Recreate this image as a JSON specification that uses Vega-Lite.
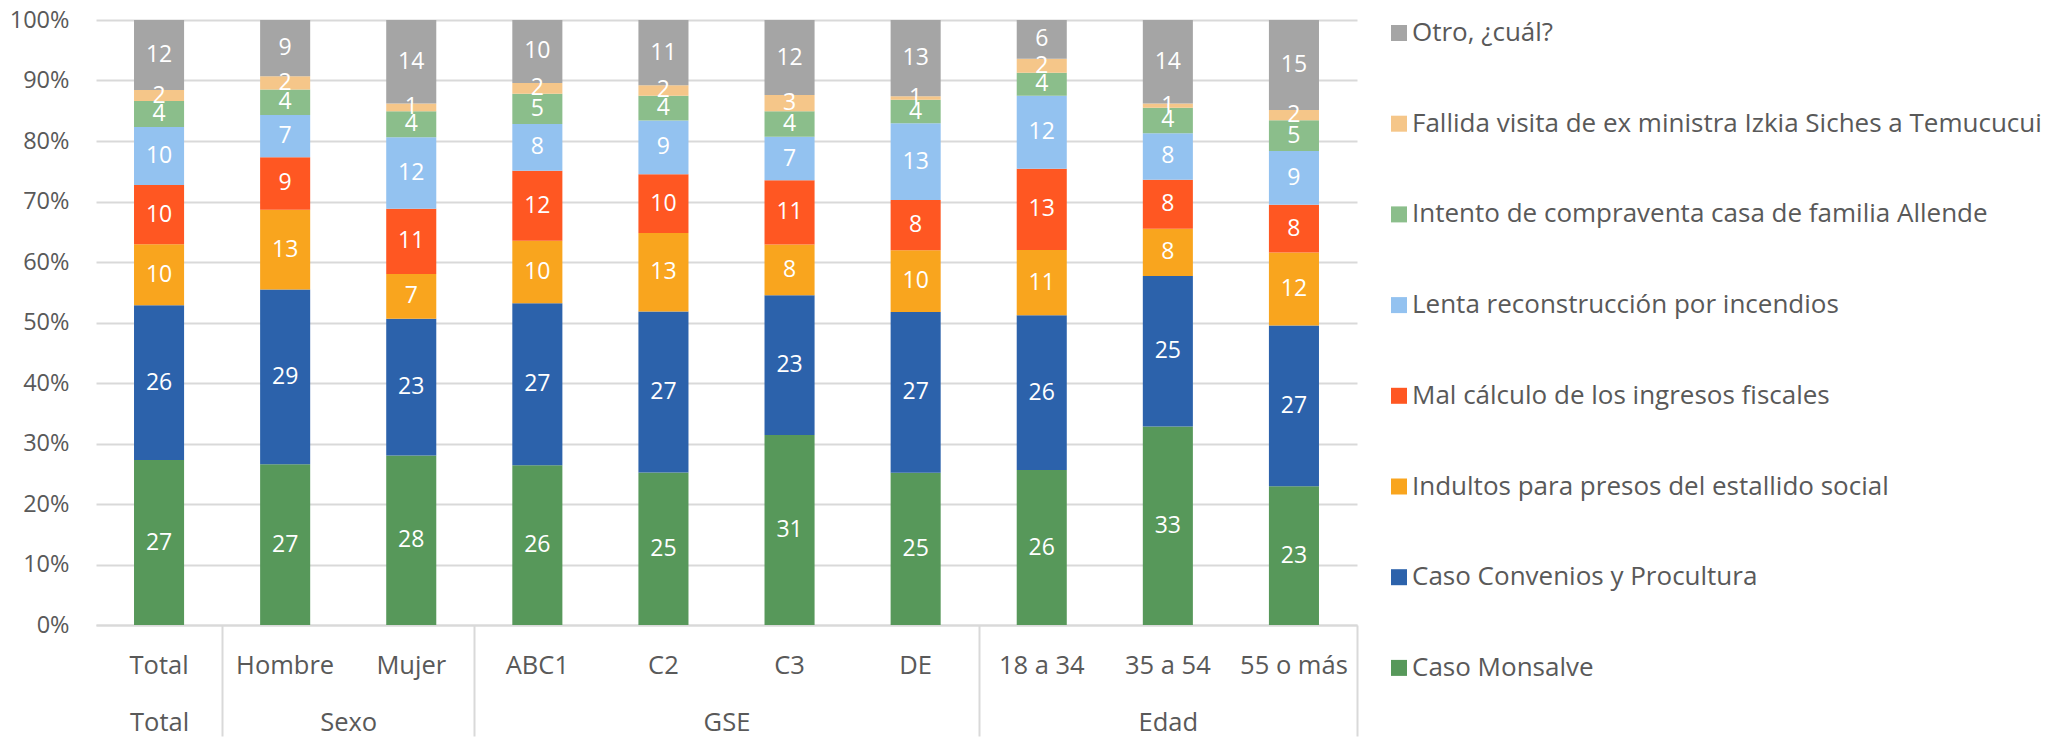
{
  "$schema": "https://vega.github.io/schema/vega-lite/v6.json",
  "width": 1261,
  "height": 605,
  "autosize": {"type": "none"},
  "padding": {"left": 96, "top": 20, "right": 696, "bottom": 112},
  "background": "white",
  "config": {"font": "Open Sans", "view": {"stroke": null}},
  "datasets": {
    "d": [
      {"grupo": "Total", "categoria": "Total", "tema": "Caso Monsalve", "orden": 1, "valor": 27.3},
      {"grupo": "Total", "categoria": "Total", "tema": "Caso Convenios y Procultura", "orden": 2, "valor": 25.6},
      {"grupo": "Total", "categoria": "Total", "tema": "Indultos para presos del estallido social", "orden": 3, "valor": 10.1},
      {"grupo": "Total", "categoria": "Total", "tema": "Mal cálculo de los ingresos fiscales", "orden": 4, "valor": 9.8},
      {"grupo": "Total", "categoria": "Total", "tema": "Lenta reconstrucción por incendios", "orden": 5, "valor": 9.6},
      {"grupo": "Total", "categoria": "Total", "tema": "Intento de compraventa casa de familia Allende", "orden": 6, "valor": 4.3},
      {"grupo": "Total", "categoria": "Total", "tema": "Fallida visita de ex ministra Izkia Siches a Temucucui", "orden": 7, "valor": 1.8},
      {"grupo": "Total", "categoria": "Total", "tema": "Otro, ¿cuál?", "orden": 8, "valor": 11.6},

      {"grupo": "Sexo", "categoria": "Hombre", "tema": "Caso Monsalve", "orden": 1, "valor": 26.6},
      {"grupo": "Sexo", "categoria": "Hombre", "tema": "Caso Convenios y Procultura", "orden": 2, "valor": 28.9},
      {"grupo": "Sexo", "categoria": "Hombre", "tema": "Indultos para presos del estallido social", "orden": 3, "valor": 13.2},
      {"grupo": "Sexo", "categoria": "Hombre", "tema": "Mal cálculo de los ingresos fiscales", "orden": 4, "valor": 8.7},
      {"grupo": "Sexo", "categoria": "Hombre", "tema": "Lenta reconstrucción por incendios", "orden": 5, "valor": 7.0},
      {"grupo": "Sexo", "categoria": "Hombre", "tema": "Intento de compraventa casa de familia Allende", "orden": 6, "valor": 4.2},
      {"grupo": "Sexo", "categoria": "Hombre", "tema": "Fallida visita de ex ministra Izkia Siches a Temucucui", "orden": 7, "valor": 2.2},
      {"grupo": "Sexo", "categoria": "Hombre", "tema": "Otro, ¿cuál?", "orden": 8, "valor": 9.3},

      {"grupo": "Sexo", "categoria": "Mujer", "tema": "Caso Monsalve", "orden": 1, "valor": 28.0},
      {"grupo": "Sexo", "categoria": "Mujer", "tema": "Caso Convenios y Procultura", "orden": 2, "valor": 22.6},
      {"grupo": "Sexo", "categoria": "Mujer", "tema": "Indultos para presos del estallido social", "orden": 3, "valor": 7.4},
      {"grupo": "Sexo", "categoria": "Mujer", "tema": "Mal cálculo de los ingresos fiscales", "orden": 4, "valor": 10.8},
      {"grupo": "Sexo", "categoria": "Mujer", "tema": "Lenta reconstrucción por incendios", "orden": 5, "valor": 11.8},
      {"grupo": "Sexo", "categoria": "Mujer", "tema": "Intento de compraventa casa de familia Allende", "orden": 6, "valor": 4.3},
      {"grupo": "Sexo", "categoria": "Mujer", "tema": "Fallida visita de ex ministra Izkia Siches a Temucucui", "orden": 7, "valor": 1.3},
      {"grupo": "Sexo", "categoria": "Mujer", "tema": "Otro, ¿cuál?", "orden": 8, "valor": 13.8},

      {"grupo": "GSE", "categoria": "ABC1", "tema": "Caso Monsalve", "orden": 1, "valor": 26.4},
      {"grupo": "GSE", "categoria": "ABC1", "tema": "Caso Convenios y Procultura", "orden": 2, "valor": 26.8},
      {"grupo": "GSE", "categoria": "ABC1", "tema": "Indultos para presos del estallido social", "orden": 3, "valor": 10.3},
      {"grupo": "GSE", "categoria": "ABC1", "tema": "Mal cálculo de los ingresos fiscales", "orden": 4, "valor": 11.6},
      {"grupo": "GSE", "categoria": "ABC1", "tema": "Lenta reconstrucción por incendios", "orden": 5, "valor": 7.7},
      {"grupo": "GSE", "categoria": "ABC1", "tema": "Intento de compraventa casa de familia Allende", "orden": 6, "valor": 5.0},
      {"grupo": "GSE", "categoria": "ABC1", "tema": "Fallida visita de ex ministra Izkia Siches a Temucucui", "orden": 7, "valor": 1.8},
      {"grupo": "GSE", "categoria": "ABC1", "tema": "Otro, ¿cuál?", "orden": 8, "valor": 10.4},

      {"grupo": "GSE", "categoria": "C2", "tema": "Caso Monsalve", "orden": 1, "valor": 25.2},
      {"grupo": "GSE", "categoria": "C2", "tema": "Caso Convenios y Procultura", "orden": 2, "valor": 26.6},
      {"grupo": "GSE", "categoria": "C2", "tema": "Indultos para presos del estallido social", "orden": 3, "valor": 13.0},
      {"grupo": "GSE", "categoria": "C2", "tema": "Mal cálculo de los ingresos fiscales", "orden": 4, "valor": 9.7},
      {"grupo": "GSE", "categoria": "C2", "tema": "Lenta reconstrucción por incendios", "orden": 5, "valor": 8.9},
      {"grupo": "GSE", "categoria": "C2", "tema": "Intento de compraventa casa de familia Allende", "orden": 6, "valor": 4.1},
      {"grupo": "GSE", "categoria": "C2", "tema": "Fallida visita de ex ministra Izkia Siches a Temucucui", "orden": 7, "valor": 1.7},
      {"grupo": "GSE", "categoria": "C2", "tema": "Otro, ¿cuál?", "orden": 8, "valor": 10.8},

      {"grupo": "GSE", "categoria": "C3", "tema": "Caso Monsalve", "orden": 1, "valor": 31.4},
      {"grupo": "GSE", "categoria": "C3", "tema": "Caso Convenios y Procultura", "orden": 2, "valor": 23.1},
      {"grupo": "GSE", "categoria": "C3", "tema": "Indultos para presos del estallido social", "orden": 3, "valor": 8.4},
      {"grupo": "GSE", "categoria": "C3", "tema": "Mal cálculo de los ingresos fiscales", "orden": 4, "valor": 10.6},
      {"grupo": "GSE", "categoria": "C3", "tema": "Lenta reconstrucción por incendios", "orden": 5, "valor": 7.2},
      {"grupo": "GSE", "categoria": "C3", "tema": "Intento de compraventa casa de familia Allende", "orden": 6, "valor": 4.2},
      {"grupo": "GSE", "categoria": "C3", "tema": "Fallida visita de ex ministra Izkia Siches a Temucucui", "orden": 7, "valor": 2.7},
      {"grupo": "GSE", "categoria": "C3", "tema": "Otro, ¿cuál?", "orden": 8, "valor": 12.4},

      {"grupo": "GSE", "categoria": "DE", "tema": "Caso Monsalve", "orden": 1, "valor": 25.2},
      {"grupo": "GSE", "categoria": "DE", "tema": "Caso Convenios y Procultura", "orden": 2, "valor": 26.6},
      {"grupo": "GSE", "categoria": "DE", "tema": "Indultos para presos del estallido social", "orden": 3, "valor": 10.2},
      {"grupo": "GSE", "categoria": "DE", "tema": "Mal cálculo de los ingresos fiscales", "orden": 4, "valor": 8.3},
      {"grupo": "GSE", "categoria": "DE", "tema": "Lenta reconstrucción por incendios", "orden": 5, "valor": 12.7},
      {"grupo": "GSE", "categoria": "DE", "tema": "Intento de compraventa casa de familia Allende", "orden": 6, "valor": 3.9},
      {"grupo": "GSE", "categoria": "DE", "tema": "Fallida visita de ex ministra Izkia Siches a Temucucui", "orden": 7, "valor": 0.6},
      {"grupo": "GSE", "categoria": "DE", "tema": "Otro, ¿cuál?", "orden": 8, "valor": 12.6},

      {"grupo": "Edad", "categoria": "18 a 34", "tema": "Caso Monsalve", "orden": 1, "valor": 25.6},
      {"grupo": "Edad", "categoria": "18 a 34", "tema": "Caso Convenios y Procultura", "orden": 2, "valor": 25.6},
      {"grupo": "Edad", "categoria": "18 a 34", "tema": "Indultos para presos del estallido social", "orden": 3, "valor": 10.8},
      {"grupo": "Edad", "categoria": "18 a 34", "tema": "Mal cálculo de los ingresos fiscales", "orden": 4, "valor": 13.4},
      {"grupo": "Edad", "categoria": "18 a 34", "tema": "Lenta reconstrucción por incendios", "orden": 5, "valor": 12.1},
      {"grupo": "Edad", "categoria": "18 a 34", "tema": "Intento de compraventa casa de familia Allende", "orden": 6, "valor": 3.8},
      {"grupo": "Edad", "categoria": "18 a 34", "tema": "Fallida visita de ex ministra Izkia Siches a Temucucui", "orden": 7, "valor": 2.3},
      {"grupo": "Edad", "categoria": "18 a 34", "tema": "Otro, ¿cuál?", "orden": 8, "valor": 6.4},

      {"grupo": "Edad", "categoria": "35 a 54", "tema": "Caso Monsalve", "orden": 1, "valor": 32.8},
      {"grupo": "Edad", "categoria": "35 a 54", "tema": "Caso Convenios y Procultura", "orden": 2, "valor": 24.9},
      {"grupo": "Edad", "categoria": "35 a 54", "tema": "Indultos para presos del estallido social", "orden": 3, "valor": 7.8},
      {"grupo": "Edad", "categoria": "35 a 54", "tema": "Mal cálculo de los ingresos fiscales", "orden": 4, "valor": 8.1},
      {"grupo": "Edad", "categoria": "35 a 54", "tema": "Lenta reconstrucción por incendios", "orden": 5, "valor": 7.7},
      {"grupo": "Edad", "categoria": "35 a 54", "tema": "Intento de compraventa casa de familia Allende", "orden": 6, "valor": 4.2},
      {"grupo": "Edad", "categoria": "35 a 54", "tema": "Fallida visita de ex ministra Izkia Siches a Temucucui", "orden": 7, "valor": 0.7},
      {"grupo": "Edad", "categoria": "35 a 54", "tema": "Otro, ¿cuál?", "orden": 8, "valor": 13.8},

      {"grupo": "Edad", "categoria": "55 o más", "tema": "Caso Monsalve", "orden": 1, "valor": 23.0},
      {"grupo": "Edad", "categoria": "55 o más", "tema": "Caso Convenios y Procultura", "orden": 2, "valor": 26.6},
      {"grupo": "Edad", "categoria": "55 o más", "tema": "Indultos para presos del estallido social", "orden": 3, "valor": 12.1},
      {"grupo": "Edad", "categoria": "55 o más", "tema": "Mal cálculo de los ingresos fiscales", "orden": 4, "valor": 7.9},
      {"grupo": "Edad", "categoria": "55 o más", "tema": "Lenta reconstrucción por incendios", "orden": 5, "valor": 8.9},
      {"grupo": "Edad", "categoria": "55 o más", "tema": "Intento de compraventa casa de familia Allende", "orden": 6, "valor": 5.1},
      {"grupo": "Edad", "categoria": "55 o más", "tema": "Fallida visita de ex ministra Izkia Siches a Temucucui", "orden": 7, "valor": 1.7},
      {"grupo": "Edad", "categoria": "55 o más", "tema": "Otro, ¿cuál?", "orden": 8, "valor": 14.9}
    ]
  },
  "data": {"name": "d"},
  "layer": [
    {
      "mark": {"type": "bar", "width": {"band": 0.397}},
      "encoding": {
        "x": {
          "field": "categoria", "type": "nominal",
          "sort": ["Total", "Hombre", "Mujer", "ABC1", "C2", "C3", "DE", "18 a 34", "35 a 54", "55 o más"],
          "scale": {"paddingInner": 0, "paddingOuter": 0},
          "axis": {
            "title": null, "orient": "bottom", "domain": true, "domainColor": "#D9D9D9", "domainWidth": 2,
            "ticks": false, "grid": false, "labelAngle": 0,
            "labelFontSize": 25.5, "labelColor": "#595959", "labelPadding": 28
          }
        },
        "y": {
          "field": "valor", "type": "quantitative", "stack": "normalize",
          "scale": {"domain": [0, 1]},
          "axis": {
            "title": null, "values": [0, 0.1, 0.2, 0.3, 0.4, 0.5, 0.6, 0.7, 0.8, 0.9, 1],
            "format": ".0%", "domain": false, "ticks": false,
            "grid": true, "gridColor": "#D9D9D9", "gridWidth": 2,
            "labelFontSize": 23.5, "labelColor": "#595959", "labelPadding": 27
          }
        },
        "color": {
          "field": "tema", "type": "nominal",
          "scale": {
            "domain": ["Otro, ¿cuál?", "Fallida visita de ex ministra Izkia Siches a Temucucui", "Intento de compraventa casa de familia Allende", "Lenta reconstrucción por incendios", "Mal cálculo de los ingresos fiscales", "Indultos para presos del estallido social", "Caso Convenios y Procultura", "Caso Monsalve"],
            "range": ["#A5A5A5", "#F5C689", "#8BBE8B", "#93C2F0", "#FF5722", "#F9A51E", "#2C62AB", "#57985A"]
          },
          "legend": {
            "title": null, "orient": "right", "offset": 29, "padding": 0,
            "symbolType": "square", "symbolSize": 256, "symbolStrokeWidth": 0,
            "labelFontSize": 26, "labelColor": "#595959", "labelLimit": 800,
            "labelOffset": 0, "rowPadding": 64.7
          }
        },
        "order": {"field": "orden", "type": "quantitative"}
      }
    },
    {
      "mark": {"type": "text", "color": "white", "fontSize": 23},
      "encoding": {
        "x": {
          "field": "categoria", "type": "nominal",
          "sort": ["Total", "Hombre", "Mujer", "ABC1", "C2", "C3", "DE", "18 a 34", "35 a 54", "55 o más"],
          "axis": {
            "title": null, "orient": "bottom", "domain": false, "grid": false, "labelAngle": 0,
            "ticks": true, "tickBand": "extent", "tickSize": 111, "tickColor": "#D9D9D9", "tickWidth": 2,
            "tickOpacity": {"condition": {"test": "datum.value === 'Total' || datum.value === 'Mujer' || datum.value === 'DE' || datum.value === '55 o más'", "value": 1}, "value": 0},
            "labelExpr": "datum.value === 'Total' ? 'Total' : datum.value === 'Hombre' ? 'Sexo' : datum.value === 'C2' ? 'GSE' : datum.value === '35 a 54' ? 'Edad' : ''",
            "labelOffset": {"condition": {"test": "datum.value === 'Hombre' || datum.value === 'C2'", "value": 63}, "value": 0},
            "labelFontSize": 25.5, "labelColor": "#595959", "labelPadding": -26
          }
        },
        "y": {
          "field": "valor", "type": "quantitative", "stack": "normalize", "bandPosition": 0.5,
          "axis": {
            "title": null, "values": [0, 0.1, 0.2, 0.3, 0.4, 0.5, 0.6, 0.7, 0.8, 0.9, 1],
            "format": ".0%", "domain": false, "ticks": false,
            "grid": true, "gridColor": "#D9D9D9", "gridWidth": 2,
            "labelFontSize": 23.5, "labelColor": "#595959", "labelPadding": 27
          }
        },
        "detail": {"field": "tema", "type": "nominal"},
        "order": {"field": "orden", "type": "quantitative"},
        "text": {"field": "valor", "type": "quantitative", "format": ".0f"}
      }
    }
  ],
  "resolve": {"axis": {"x": "independent"}}
}
